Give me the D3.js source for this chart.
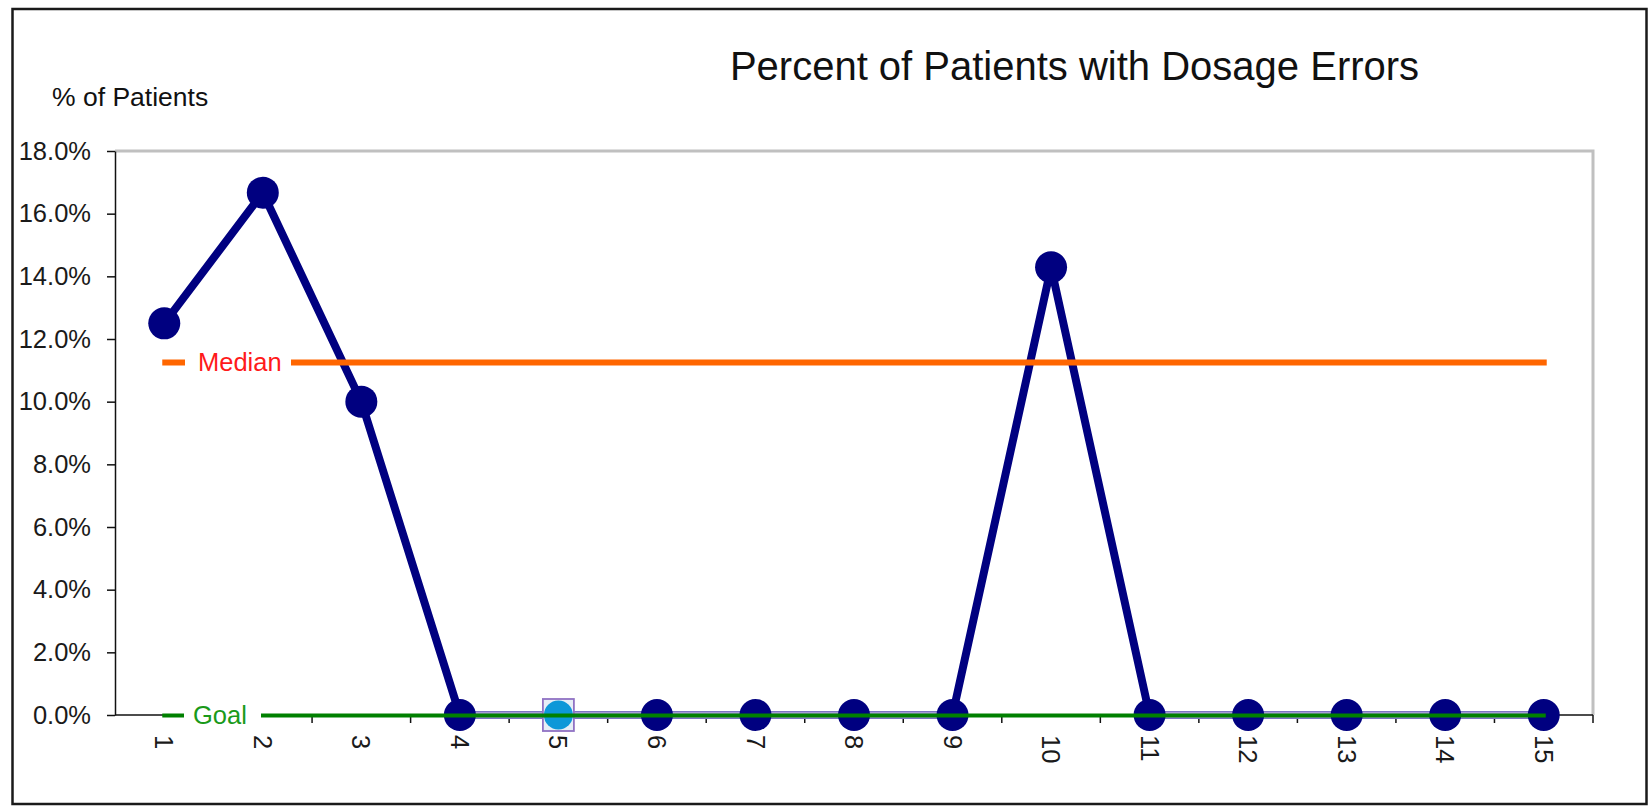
<!DOCTYPE html>
<html><head><meta charset="utf-8">
<script src="https://cdn.jsdelivr.net/npm/d3@7"></script>
<style>html,body{margin:0;padding:0;background:#fff;}svg{display:block;font-family:"Liberation Sans",Arial,sans-serif;}</style>
</head><body>
<script>
const categories = ["1","2","3","4","5","6","7","8","9","10","11","12","13","14","15"];
const values = [0.125, 0.1667, 0.10, 0, 0, 0, 0, 0, 0, 0.1429, 0, 0, 0, 0, 0];
const medianValue = 0.1125;
const goalValue = 0;
const yTicks = [0, 0.02, 0.04, 0.06, 0.08, 0.10, 0.12, 0.14, 0.16, 0.18];
const highlighted = ["5"];
const titleText = "Percent of Patients with Dosage Errors";
const yLabel = "% of Patients";

const W = 1648, H = 809;
const svg = d3.select("body").append("svg").attr("width", W).attr("height", H);
const L = 115, R = 1593, T = 151, B = 715;
const x = d3.scaleBand().domain(categories).range([L, R]).padding(0);
const y = d3.scaleLinear().domain([0, 0.18]).range([B, T]);
const cx = c => x(c) + x.bandwidth() / 2;

// outer border
svg.append("rect").attr("x", 12.5).attr("y", 9).attr("width", 1634).attr("height", 795)
  .attr("fill", "#fff").attr("stroke", "#1a1a1a").attr("stroke-width", 2.5);

// plot border (top/right grey)
svg.append("path").attr("d", `M${L},${T}H${R}V${B}`).attr("fill", "none")
  .attr("stroke", "#c0c0c0").attr("stroke-width", 3);

// title
svg.append("text").attr("x", 1074.5).attr("y", 80).attr("text-anchor", "middle")
  .attr("font-size", 40).attr("fill", "#111").text(titleText);
svg.append("text").attr("x", 52).attr("y", 106).attr("font-size", 26.5).attr("fill", "#111").text(yLabel);

// y axis
const yAxis = svg.append("g").attr("transform", `translate(${L},0)`)
  .call(d3.axisLeft(y).tickValues(yTicks).tickFormat(d3.format(".1%")).tickSize(8).tickPadding(16).tickSizeOuter(0));
yAxis.selectAll("path,line").attr("stroke", "#111").attr("stroke-width", 1.5);
yAxis.selectAll("text").attr("font-size", 25.5).attr("fill", "#1a1a1a").attr("font-family", "Liberation Sans, Arial, sans-serif");

// x axis line and ticks at band boundaries
const xg = svg.append("g");
xg.append("line").attr("x1", L).attr("x2", R).attr("y1", B).attr("y2", B).attr("stroke", "#111").attr("stroke-width", 1.5);
xg.selectAll("line.t").data(categories).join("line").attr("class", "t")
  .attr("x1", c => x(c) + x.bandwidth()).attr("x2", c => x(c) + x.bandwidth())
  .attr("y1", B).attr("y2", B + 8).attr("stroke", "#111").attr("stroke-width", 1.5);
xg.selectAll("text").data(categories).join("text")
  .attr("transform", c => `translate(${cx(c)},735) rotate(90)`)
  .attr("text-anchor", "start").attr("dy", "0.35em")
  .attr("font-size", 25.5).attr("fill", "#1a1a1a").text(c => c);

// data line
const line = d3.line().x((d, i) => cx(categories[i])).y(d => y(d));
svg.append("path").datum(values).attr("d", line).attr("fill", "none")
  .attr("stroke", "#000080").attr("stroke-width", 8).attr("stroke-linejoin", "round");

// lavender overlay where consecutive points sit on goal
const segs = [];
for (let i = 0; i < values.length - 1; i++) {
  if (values[i] === goalValue && values[i + 1] === goalValue) segs.push(i);
}
svg.selectAll("line.lav").data(segs).join("line").attr("class", "lav")
  .attr("x1", i => cx(categories[i])).attr("x2", i => cx(categories[i + 1]))
  .attr("y1", y(goalValue)).attr("y2", y(goalValue))
  .attr("stroke", "#a49ad8").attr("stroke-width", 7.5);

// markers
const pts = categories.map((c, i) => ({c, v: values[i]}));
svg.selectAll("circle.pt").data(pts.filter(p => !highlighted.includes(p.c))).join("circle").attr("class", "pt")
  .attr("cx", p => cx(p.c)).attr("cy", p => y(p.v)).attr("r", 16).attr("fill", "#000080");
const hp = pts.filter(p => highlighted.includes(p.c));
svg.selectAll("rect.hp").data(hp).join("rect").attr("class", "hp")
  .attr("x", p => cx(p.c) - 15.5).attr("y", p => y(p.v) - 16).attr("width", 31).attr("height", 32)
  .attr("fill", "#e6eef6").attr("stroke", "#9072c4").attr("stroke-width", 1.8);
svg.selectAll("circle.hp").data(hp).join("circle").attr("class", "hp")
  .attr("cx", p => cx(p.c)).attr("cy", p => y(p.v)).attr("r", 14.5).attr("fill", "#0d98d8");

const x0 = cx(categories[0]) - 2, x1 = cx(categories[categories.length - 1]) + 3;
// median line
svg.append("line").attr("x1", x0).attr("x2", x1).attr("y1", y(medianValue)).attr("y2", y(medianValue))
  .attr("stroke", "#ff6600").attr("stroke-width", 6);
svg.append("rect").attr("x", 185).attr("y", y(medianValue) - 15).attr("width", 106).attr("height", 30).attr("fill", "#fff");
svg.append("text").attr("x", 198).attr("y", y(medianValue)).attr("dy", "0.35em")
  .attr("font-size", 25.5).attr("fill", "#ff1a1a").text("Median");

// goal line
svg.append("line").attr("x1", x0).attr("x2", x1 - 1).attr("y1", y(goalValue) + 0.5).attr("y2", y(goalValue) + 0.5)
  .attr("stroke", "#008000").attr("stroke-width", 4);
svg.append("rect").attr("x", 184).attr("y", y(goalValue) - 15).attr("width", 77).attr("height", 30).attr("fill", "#fff");
svg.append("text").attr("x", 193).attr("y", y(goalValue)).attr("dy", "0.35em")
  .attr("font-size", 25.5).attr("fill", "#1a9a1a").text("Goal");
</script>
</body></html>
